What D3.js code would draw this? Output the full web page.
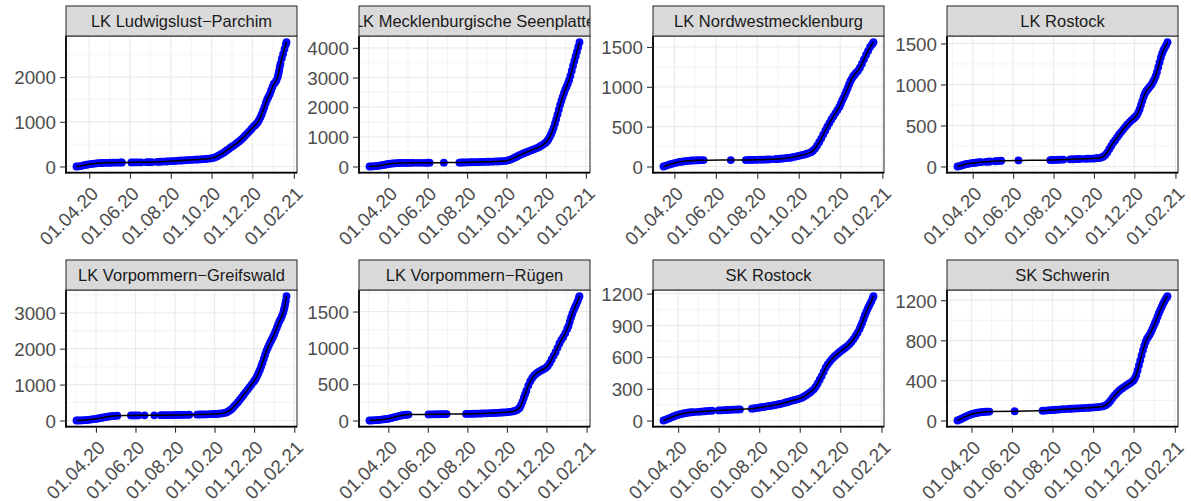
<!DOCTYPE html>
<html><head><meta charset="utf-8">
<script src="https://cdn.jsdelivr.net/npm/d3@7"></script>
<style>body{margin:0;background:#fff} svg{display:block}</style>
</head><body><svg id="chart" width="1191" height="501"></svg>
<script>
// ---------- data ----------
const panelTitles = ["LK Ludwigslust\u2212Parchim","LK Mecklenburgische Seenplatte","LK Nordwestmecklenburg","LK Rostock","LK Vorpommern\u2212Greifswald","LK Vorpommern\u2212Rügen","SK Rostock","SK Schwerin"];
const xTickLabels = ["01.04.20","01.06.20","01.08.20","01.10.20","01.12.20","01.02.21"];
const yTickValues = [[0,1000,2000],[0,1000,2000,3000,4000],[0,500,1000,1500],[0,500,1000,1500],[0,1000,2000,3000],[0,500,1000,1500],[0,300,600,900,1200],[0,400,800,1200]];

const lkLudwigslustParchim = [["20-03-13",0],["20-03-16",4],["20-03-19",10],["20-03-22",20],["20-03-25",30],["20-03-28",40],["20-03-31",48],["20-04-03",55],["20-04-06",60],["20-04-09",65],["20-04-12",70],["20-04-15",74],["20-04-18",77],["20-04-21",79],["20-04-24",81],["20-04-28",82],["20-05-02",84],["20-05-06",85],["20-05-10",87],["20-05-14",88],["20-05-18",89],["20-05-20",90],["20-06-03",91],["20-06-06",92],["20-06-10",93],["20-06-14",93],["20-06-18",94],["20-06-26",96],["20-06-30",97],["20-07-04",99],["20-07-12",103],["20-07-16",106],["20-07-20",109],["20-07-25",112],["20-07-28",115],["20-08-01",118],["20-08-05",122],["20-08-09",126],["20-08-13",130],["20-08-17",134],["20-08-21",138],["20-08-25",142],["20-08-29",146],["20-09-02",150],["20-09-06",153],["20-09-10",156],["20-09-14",159],["20-09-18",163],["20-09-22",168],["20-09-26",174],["20-09-30",182],["20-10-03",192],["20-10-06",205],["20-10-09",225],["20-10-12",250],["20-10-15",275],["20-10-18",300],["20-10-21",330],["20-10-24",365],["20-10-27",395],["20-10-30",430],["20-11-02",460],["20-11-05",490],["20-11-08",525],["20-11-11",560],["20-11-14",600],["20-11-17",640],["20-11-20",690],["20-11-23",735],["20-11-26",780],["20-11-29",830],["20-12-01",860],["20-12-03",895],["20-12-05",925],["20-12-07",955],["20-12-09",990],["20-12-11",1040],["20-12-13",1100],["20-12-15",1170],["20-12-17",1250],["20-12-19",1330],["20-12-21",1420],["20-12-23",1500],["20-12-25",1560],["20-12-27",1620],["20-12-29",1700],["20-12-31",1780],["21-01-02",1850],["21-01-04",1880],["21-01-06",1930],["21-01-08",2010],["21-01-09",2080],["21-01-10",2150],["21-01-11",2230],["21-01-12",2300],["21-01-14",2420],["21-01-16",2520],["21-01-18",2630],["21-01-20",2730],["21-01-21",2780]];

const lkMecklenburgischeSeenplatte = [["20-03-03",0],["20-03-06",2],["20-03-09",5],["20-03-12",10],["20-03-15",18],["20-03-18",28],["20-03-21",38],["20-03-24",50],["20-03-27",62],["20-03-30",75],["20-04-02",85],["20-04-05",95],["20-04-08",102],["20-04-11",108],["20-04-14",112],["20-04-17",115],["20-04-20",117],["20-04-24",119],["20-04-28",120],["20-05-02",121],["20-05-06",122],["20-05-10",123],["20-05-16",124],["20-05-22",125],["20-05-28",125],["20-06-01",126],["20-06-04",127],["20-06-26",130],["20-07-20",133],["20-07-23",134],["20-07-26",136],["20-07-29",138],["20-08-01",140],["20-08-05",142],["20-08-09",145],["20-08-13",147],["20-08-17",150],["20-08-21",153],["20-08-25",155],["20-08-29",158],["20-09-02",160],["20-09-06",163],["20-09-10",166],["20-09-14",169],["20-09-18",172],["20-09-22",176],["20-09-26",182],["20-09-30",190],["20-10-03",205],["20-10-06",225],["20-10-09",250],["20-10-12",280],["20-10-15",315],["20-10-18",345],["20-10-21",380],["20-10-24",410],["20-10-27",440],["20-10-30",465],["20-11-02",490],["20-11-05",520],["20-11-08",545],["20-11-11",570],["20-11-14",595],["20-11-17",620],["20-11-20",650],["20-11-23",690],["20-11-26",730],["20-11-29",775],["20-12-01",810],["20-12-03",860],["20-12-05",920],["20-12-07",1000],["20-12-09",1090],["20-12-11",1190],["20-12-13",1310],["20-12-15",1450],["20-12-17",1600],["20-12-19",1760],["20-12-21",1920],["20-12-23",2080],["20-12-25",2220],["20-12-27",2350],["20-12-29",2480],["20-12-31",2600],["21-01-02",2700],["21-01-04",2800],["21-01-06",2920],["21-01-08",3060],["21-01-10",3230],["21-01-12",3400],["21-01-14",3560],["21-01-16",3720],["21-01-18",3870],["21-01-20",4030],["21-01-22",4190]];

const lkNordwestmecklenburg = [["20-03-16",0],["20-03-19",8],["20-03-22",18],["20-03-25",26],["20-03-28",33],["20-03-31",40],["20-04-03",46],["20-04-06",52],["20-04-09",57],["20-04-12",61],["20-04-15",65],["20-04-18",68],["20-04-21",71],["20-04-24",73],["20-04-27",75],["20-04-30",76],["20-05-03",77],["20-05-06",78],["20-05-10",79],["20-05-14",80],["20-06-23",80],["20-07-15",81],["20-07-19",82],["20-07-23",82],["20-07-27",83],["20-07-31",84],["20-08-04",85],["20-08-08",86],["20-08-12",87],["20-08-16",88],["20-08-20",90],["20-08-27",92],["20-08-31",94],["20-09-04",97],["20-09-08",100],["20-09-12",104],["20-09-16",108],["20-09-20",113],["20-09-24",120],["20-09-28",128],["20-10-01",134],["20-10-04",140],["20-10-07",146],["20-10-10",152],["20-10-13",160],["20-10-16",168],["20-10-19",180],["20-10-22",198],["20-10-25",225],["20-10-28",262],["20-10-31",305],["20-11-03",350],["20-11-06",400],["20-11-09",450],["20-11-12",500],["20-11-15",545],["20-11-18",590],["20-11-21",630],["20-11-24",670],["20-11-27",710],["20-11-30",750],["20-12-02",790],["20-12-04",830],["20-12-06",865],["20-12-08",905],["20-12-10",945],["20-12-12",985],["20-12-14",1030],["20-12-16",1070],["20-12-18",1100],["20-12-20",1130],["20-12-22",1150],["20-12-24",1175],["20-12-27",1200],["20-12-30",1240],["21-01-02",1290],["21-01-05",1345],["21-01-08",1400],["21-01-11",1450],["21-01-14",1500],["21-01-17",1535],["21-01-19",1560]];

const lkRostock = [["20-03-09",0],["20-03-12",5],["20-03-15",12],["20-03-18",20],["20-03-21",27],["20-03-24",32],["20-03-27",36],["20-03-30",40],["20-04-02",44],["20-04-05",47],["20-04-08",50],["20-04-11",52],["20-04-14",54],["20-04-21",57],["20-04-24",59],["20-04-27",61],["20-05-05",64],["20-05-08",66],["20-05-11",68],["20-05-14",70],["20-06-09",74],["20-07-27",78],["20-07-30",79],["20-08-02",80],["20-08-05",81],["20-08-08",82],["20-08-12",83],["20-08-16",84],["20-08-26",87],["20-08-30",88],["20-09-03",90],["20-09-07",91],["20-09-11",92],["20-09-18",94],["20-09-22",95],["20-09-26",96],["20-09-30",97],["20-10-03",99],["20-10-06",101],["20-10-09",104],["20-10-12",110],["20-10-15",120],["20-10-18",140],["20-10-21",170],["20-10-24",210],["20-10-27",250],["20-10-30",290],["20-11-02",320],["20-11-05",355],["20-11-08",390],["20-11-11",420],["20-11-14",450],["20-11-17",480],["20-11-20",510],["20-11-23",535],["20-11-26",560],["20-11-29",580],["20-12-01",595],["20-12-03",610],["20-12-05",630],["20-12-07",660],["20-12-09",700],["20-12-11",750],["20-12-13",800],["20-12-15",850],["20-12-17",890],["20-12-19",920],["20-12-21",940],["20-12-23",960],["20-12-25",980],["20-12-27",1000],["20-12-29",1030],["20-12-31",1060],["21-01-02",1100],["21-01-04",1150],["21-01-06",1210],["21-01-08",1270],["21-01-10",1330],["21-01-12",1380],["21-01-14",1420],["21-01-16",1450],["21-01-18",1480],["21-01-20",1515]];

const lkVorpommernGreifswald = [["20-03-02",0],["20-03-05",1],["20-03-08",3],["20-03-11",5],["20-03-14",8],["20-03-17",12],["20-03-20",18],["20-03-23",25],["20-03-26",33],["20-03-29",40],["20-04-01",47],["20-04-04",56],["20-04-07",66],["20-04-10",76],["20-04-13",86],["20-04-16",96],["20-04-19",105],["20-04-22",113],["20-04-25",120],["20-04-28",126],["20-05-01",130],["20-05-04",134],["20-05-25",140],["20-05-29",141],["20-06-02",142],["20-06-06",143],["20-06-15",144],["20-06-30",145],["20-07-10",147],["20-07-14",148],["20-07-18",149],["20-07-22",150],["20-07-26",151],["20-07-30",152],["20-08-03",153],["20-08-07",154],["20-08-11",155],["20-08-15",157],["20-08-19",158],["20-08-23",160],["20-09-04",164],["20-09-08",166],["20-09-12",168],["20-09-16",170],["20-09-20",172],["20-09-24",175],["20-09-28",178],["20-10-01",181],["20-10-04",184],["20-10-07",188],["20-10-10",193],["20-10-13",200],["20-10-16",210],["20-10-19",225],["20-10-22",250],["20-10-25",285],["20-10-28",330],["20-10-31",390],["20-11-03",450],["20-11-06",510],["20-11-09",580],["20-11-12",650],["20-11-15",720],["20-11-18",790],["20-11-21",860],["20-11-24",930],["20-11-27",1000],["20-11-30",1070],["20-12-02",1120],["20-12-04",1180],["20-12-06",1250],["20-12-08",1330],["20-12-10",1410],["20-12-12",1510],["20-12-14",1610],["20-12-16",1720],["20-12-18",1830],["20-12-20",1940],["20-12-22",2020],["20-12-24",2100],["20-12-26",2180],["20-12-28",2250],["20-12-30",2320],["21-01-01",2400],["21-01-03",2490],["21-01-05",2580],["21-01-07",2670],["21-01-09",2760],["21-01-11",2830],["21-01-13",2910],["21-01-15",3010],["21-01-16",3080],["21-01-17",3150],["21-01-18",3240],["21-01-19",3330],["21-01-20",3460]];

const lkVorpommernRuegen = [["20-03-03",0],["20-03-06",1],["20-03-09",2],["20-03-12",4],["20-03-15",6],["20-03-18",9],["20-03-21",12],["20-03-24",15],["20-03-27",18],["20-03-30",22],["20-04-02",27],["20-04-05",33],["20-04-08",40],["20-04-11",47],["20-04-14",54],["20-04-17",61],["20-04-20",67],["20-04-23",72],["20-04-26",76],["20-04-29",79],["20-05-02",81],["20-06-02",84],["20-06-06",85],["20-06-10",85],["20-06-14",86],["20-06-19",86],["20-06-23",87],["20-06-27",87],["20-06-30",88],["20-07-30",90],["20-08-03",91],["20-08-07",92],["20-08-11",93],["20-08-15",94],["20-08-19",95],["20-08-23",96],["20-08-27",98],["20-08-31",99],["20-09-04",100],["20-09-08",102],["20-09-12",104],["20-09-16",106],["20-09-20",108],["20-09-24",110],["20-09-28",112],["20-10-02",115],["20-10-06",119],["20-10-10",125],["20-10-13",132],["20-10-16",142],["20-10-19",160],["20-10-21",180],["20-10-23",215],["20-10-25",260],["20-10-27",310],["20-10-29",360],["20-10-31",410],["20-11-03",480],["20-11-06",540],["20-11-09",585],["20-11-12",620],["20-11-15",645],["20-11-18",665],["20-11-21",680],["20-11-24",695],["20-11-27",710],["20-11-30",725],["20-12-03",750],["20-12-06",790],["20-12-09",840],["20-12-12",890],["20-12-15",940],["20-12-18",1000],["20-12-21",1060],["20-12-24",1110],["20-12-27",1150],["20-12-30",1200],["21-01-02",1260],["21-01-04",1300],["21-01-06",1360],["21-01-08",1420],["21-01-10",1470],["21-01-12",1520],["21-01-14",1560],["21-01-16",1600],["21-01-18",1640],["21-01-20",1690],["21-01-21",1711]];

const skRostock = [["20-03-10",0],["20-03-13",6],["20-03-16",14],["20-03-19",22],["20-03-22",30],["20-03-25",38],["20-03-28",45],["20-03-31",52],["20-04-03",57],["20-04-06",62],["20-04-09",66],["20-04-12",70],["20-04-15",73],["20-04-18",76],["20-04-21",78],["20-04-25",80],["20-05-01",82],["20-05-05",84],["20-05-09",86],["20-05-13",88],["20-05-17",90],["20-05-22",92],["20-06-01",95],["20-06-05",96],["20-06-09",98],["20-06-13",99],["20-06-17",100],["20-06-21",102],["20-06-25",103],["20-06-29",104],["20-07-03",105],["20-07-21",112],["20-07-24",114],["20-07-27",117],["20-07-30",120],["20-08-02",123],["20-08-05",126],["20-08-08",129],["20-08-11",132],["20-08-14",135],["20-08-17",138],["20-08-20",141],["20-08-23",144],["20-08-26",148],["20-08-29",152],["20-09-01",156],["20-09-04",160],["20-09-07",165],["20-09-10",170],["20-09-13",175],["20-09-16",181],["20-09-19",187],["20-09-22",192],["20-09-25",197],["20-09-28",202],["20-10-01",207],["20-10-04",215],["20-10-07",225],["20-10-10",237],["20-10-13",250],["20-10-16",263],["20-10-19",278],["20-10-22",295],["20-10-25",320],["20-10-28",350],["20-10-31",385],["20-11-03",420],["20-11-06",460],["20-11-09",500],["20-11-12",530],["20-11-15",555],["20-11-18",578],["20-11-21",598],["20-11-24",615],["20-11-27",632],["20-11-30",648],["20-12-03",662],["20-12-06",676],["20-12-09",690],["20-12-12",706],["20-12-15",724],["20-12-18",745],["20-12-21",770],["20-12-24",800],["20-12-27",830],["20-12-30",865],["21-01-01",895],["21-01-03",925],["21-01-05",960],["21-01-07",995],["21-01-09",1025],["21-01-11",1055],["21-01-13",1080],["21-01-15",1105],["21-01-17",1130],["21-01-19",1160],["21-01-20",1175]];

const skSchwerin = [["20-03-11",0],["20-03-14",8],["20-03-17",18],["20-03-20",28],["20-03-23",38],["20-03-26",47],["20-03-29",55],["20-04-01",62],["20-04-04",68],["20-04-07",73],["20-04-10",77],["20-04-13",80],["20-04-16",83],["20-04-19",85],["20-04-22",87],["20-04-25",88],["20-04-28",89],["20-06-05",92],["20-07-17",97],["20-07-21",99],["20-07-25",101],["20-07-29",103],["20-08-02",105],["20-08-06",107],["20-08-10",109],["20-08-14",111],["20-08-18",113],["20-08-24",115],["20-08-28",117],["20-09-01",118],["20-09-05",120],["20-09-09",121],["20-09-13",123],["20-09-17",124],["20-09-21",126],["20-09-25",127],["20-09-29",129],["20-10-03",131],["20-10-07",133],["20-10-11",136],["20-10-15",140],["20-10-18",146],["20-10-21",156],["20-10-24",172],["20-10-27",195],["20-10-30",222],["20-11-02",248],["20-11-05",270],["20-11-08",290],["20-11-11",307],["20-11-14",322],["20-11-17",336],["20-11-20",350],["20-11-23",362],["20-11-26",375],["20-11-29",390],["20-12-01",402],["20-12-03",425],["20-12-05",455],["20-12-07",500],["20-12-09",550],["20-12-11",600],["20-12-13",650],["20-12-15",700],["20-12-17",745],["20-12-19",785],["20-12-21",815],["20-12-23",835],["20-12-25",855],["20-12-27",880],["20-12-29",910],["20-12-31",940],["21-01-02",970],["21-01-04",1000],["21-01-06",1035],["21-01-08",1070],["21-01-10",1100],["21-01-12",1130],["21-01-14",1160],["21-01-16",1185],["21-01-18",1210],["21-01-20",1230],["21-01-21",1240]];

const seriesList = [lkLudwigslustParchim, lkMecklenburgischeSeenplatte, lkNordwestmecklenburg, lkRostock, lkVorpommernGreifswald, lkVorpommernRuegen, skRostock, skSchwerin];

// ---------- layout ----------
const colLeft = [66, 359, 653, 947], panelW = 231;
const rowTop = [36, 290], panelH = 136.7, stripH = 30;
const FONT = "'Liberation Sans', Arial, Helvetica, sans-serif";
const AXIS_FS = 18.8, STRIP_FS = 16.5;

const parseDay = d3.timeParse("%y-%m-%d");
const parseTick = d3.timeParse("%d.%m.%y");
const tickDates = xTickLabels.map(parseTick);
const fmt = d3.timeFormat("%d.%m.%y");

const svg = d3.select("#chart").attr("font-family", FONT);
svg.append("rect").attr("width",1191).attr("height",501).attr("fill","#fff");
const defs = svg.append("defs");

seriesList.forEach((raw, i) => {
  const data = raw.map(([d, v]) => ({date: parseDay(d), value: v}));
  const left = colLeft[i % 4], top = rowTop[Math.floor(i / 4)];
  const right = left + panelW, bottom = top + panelH;

  const [xa, xb] = d3.extent(data, d => d.date);
  const xPad = (xb - xa) * 0.05;
  const x = d3.scaleTime().domain([new Date(+xa - xPad), new Date(+xb + xPad)]).range([left, right]);
  const [ya, yb] = d3.extent(data, d => d.value);
  const yPad = (yb - ya) * 0.05;
  const y = d3.scaleLinear().domain([ya - yPad, yb + yPad]).range([bottom, top]);

  const g = svg.append("g");
  g.append("rect").attr("x", left).attr("y", top).attr("width", panelW).attr("height", panelH).attr("fill", "#fff");

  // minor grid
  const yt = yTickValues[i];
  const yStep = yt[1] - yt[0];
  const [yd0, yd1] = y.domain();
  const yMinor = [yt[0] - yStep / 2, ...yt.map(v => v + yStep / 2)].filter(v => v >= yd0 && v <= yd1);
  const tNum = tickDates.map(d => +d);
  const xMinorNum = [tNum[0] - (tNum[1] - tNum[0]) / 2];
  for (let k = 0; k < tNum.length - 1; k++) xMinorNum.push((tNum[k] + tNum[k + 1]) / 2);
  xMinorNum.push(tNum[tNum.length - 1] + (tNum[1] - tNum[0]) / 2);
  const [xd0, xd1] = x.domain().map(Number);
  const xMinor = xMinorNum.filter(v => v >= xd0 && v <= xd1).map(v => new Date(v));

  const grid = g.append("g").attr("stroke", "#EBEBEB");
  grid.selectAll(".ym").data(yMinor).join("line").attr("x1", left).attr("x2", right)
    .attr("y1", d => y(d)).attr("y2", d => y(d)).attr("stroke-width", 0.6);
  grid.selectAll(".xm").data(xMinor).join("line").attr("y1", top).attr("y2", bottom)
    .attr("x1", d => x(d)).attr("x2", d => x(d)).attr("stroke-width", 0.6);
  grid.selectAll(".yM").data(yt).join("line").attr("x1", left).attr("x2", right)
    .attr("y1", d => y(d)).attr("y2", d => y(d)).attr("stroke-width", 1.2);
  grid.selectAll(".xM").data(tickDates.filter(d => +d >= xd0 && +d <= xd1)).join("line").attr("y1", top).attr("y2", bottom)
    .attr("x1", d => x(d)).attr("x2", d => x(d)).attr("stroke-width", 1.2);

  // points
  g.append("g").selectAll("circle").data(data).join("circle")
    .attr("cx", d => x(d.date)).attr("cy", d => y(d.value)).attr("r", 3.9).attr("fill", "#0000FF");
  // smooth line
  g.append("path").datum(data)
    .attr("d", d3.line().x(d => x(d.date)).y(d => y(d.value)).curve(d3.curveBasis))
    .attr("fill", "none").attr("stroke", "#000").attr("stroke-width", 1.5);

  // border
  g.append("rect").attr("x", left).attr("y", top).attr("width", panelW).attr("height", panelH)
    .attr("fill", "none").attr("stroke", "#333").attr("stroke-width", 1.1);
  // axis lines
  g.append("line").attr("x1", left).attr("x2", left).attr("y1", top).attr("y2", bottom + 0.8).attr("stroke", "#000").attr("stroke-width", 1.7);
  g.append("line").attr("x1", left - 0.8).attr("x2", right).attr("y1", bottom).attr("y2", bottom).attr("stroke", "#000").attr("stroke-width", 1.7);

  // y axis
  const yAxisG = g.append("g").attr("transform", `translate(${left},0)`)
    .call(d3.axisLeft(y).tickValues(yt).tickSize(6).tickSizeOuter(0).tickPadding(4).tickFormat(d3.format("d")));
  yAxisG.attr("font-family", FONT).attr("font-size", AXIS_FS);
  yAxisG.select(".domain").remove();
  yAxisG.selectAll("line").attr("stroke", "#333").attr("stroke-width", 1.1);
  yAxisG.selectAll("text").attr("fill", "#4D4D4D").style("font-size", AXIS_FS + "px").attr("dy", "0.36em");

  // x axis
  const xAxisG = g.append("g").attr("transform", `translate(0,${bottom})`)
    .call(d3.axisBottom(x).tickValues(tickDates).tickSize(6).tickSizeOuter(0).tickFormat(fmt));
  xAxisG.attr("font-family", FONT).attr("font-size", AXIS_FS);
  xAxisG.select(".domain").remove();
  xAxisG.selectAll("line").attr("stroke", "#333").attr("stroke-width", 1.1);
  xAxisG.selectAll("text").attr("fill", "#4D4D4D").style("font-size", AXIS_FS + "px")
    .attr("text-anchor", "end").attr("x", 0).attr("y", 0).attr("dy", "0.72em")
    .attr("transform", "translate(0,12.5) rotate(-45)");

  // strip
  const clipId = "strip" + i;
  defs.append("clipPath").attr("id", clipId).append("rect")
    .attr("x", left).attr("y", top - stripH).attr("width", panelW).attr("height", stripH);
  g.append("rect").attr("x", left).attr("y", top - stripH).attr("width", panelW).attr("height", stripH)
    .attr("fill", "#D9D9D9").attr("stroke", "#333").attr("stroke-width", 1.1);
  g.append("text").attr("clip-path", `url(#${clipId})`)
    .attr("x", left + panelW / 2).attr("y", top - stripH / 2).attr("dy", "0.36em")
    .attr("text-anchor", "middle").attr("fill", "#1A1A1A").style("font-size", STRIP_FS + "px")
    .text(panelTitles[i]);
});
</script>
</body></html>
